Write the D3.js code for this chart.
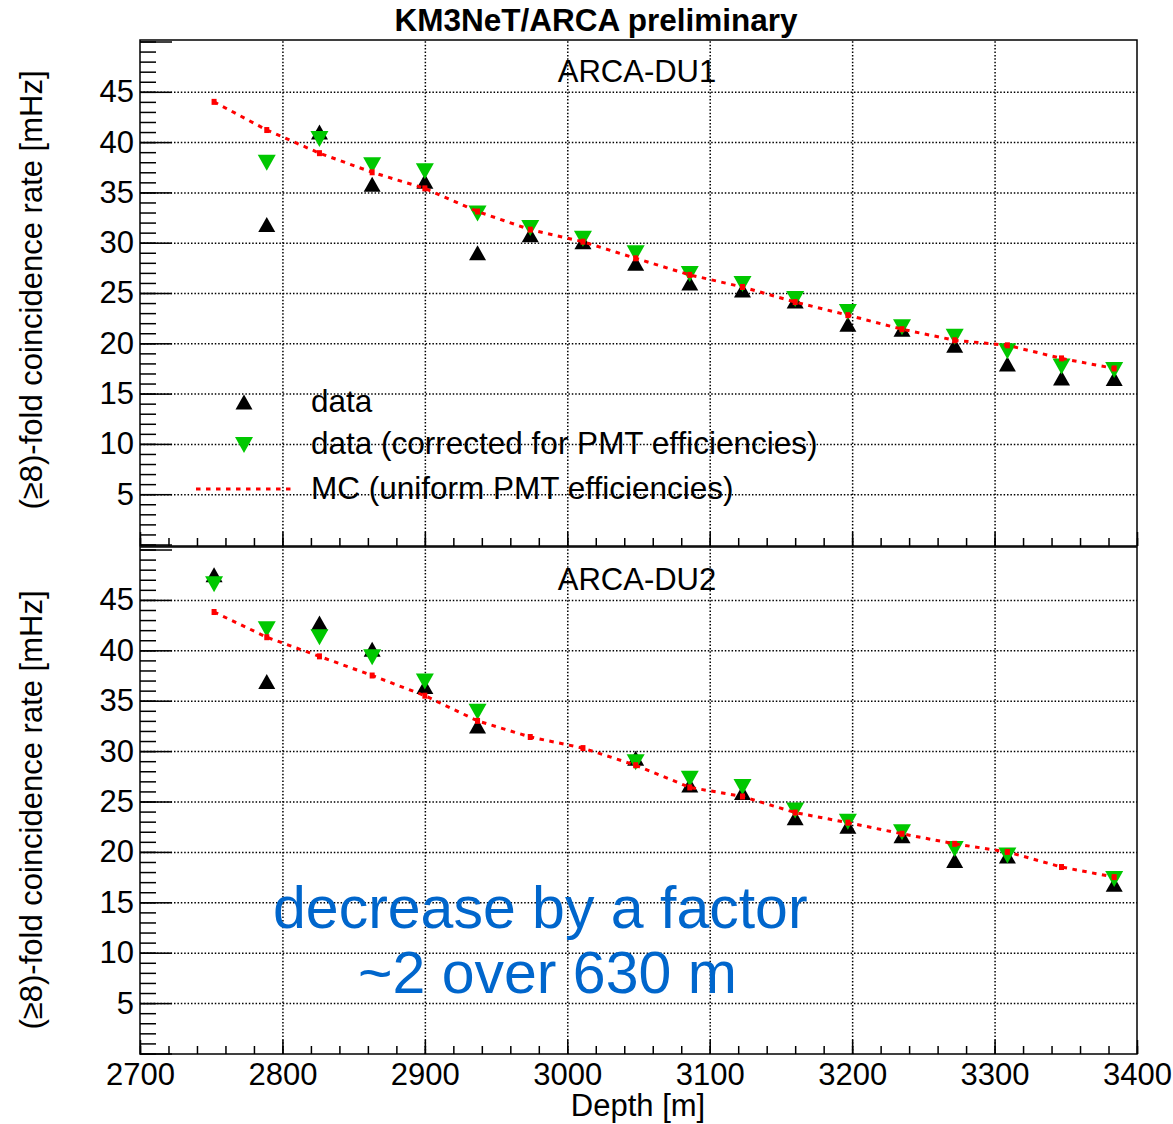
<!DOCTYPE html>
<html>
<head>
<meta charset="utf-8">
<script src="https://cdn.jsdelivr.net/npm/d3@7"></script>
<style>
  body { margin: 0; background: #fff; }
  svg { display: block; font-family: "Liberation Sans", Arial, Helvetica, sans-serif; }
  .grid line { stroke: #000; stroke-width: 1.5; stroke-dasharray: 1.5,1.9; }
  .grid path.domain, .axis path.domain { display: none; }
  .axis line { stroke: #000; stroke-width: 1.5; }
  .axis text { font-size: 31px; fill: #000; font-family: "Liberation Sans", Arial, sans-serif; }
  .frame { fill: none; stroke: #000; stroke-width: 1.5; }
  .label { font-size: 31px; fill: #000; }
</style>
</head>
<body>
<script>
"use strict";

// depth of each DOM floor [m]
var depths = [2752, 2789, 2826, 2863, 2900, 2937, 2974, 3011, 3048,
  3086, 3123, 3160, 3197, 3235, 3272, 3309, 3347, 3384];

// ARCA-DU1 rates [mHz]
var du1_data = [null, 31.8, 41.0, 35.8, 36.1, 29.0, 30.8, 30.1, 27.95,
  26.0, 25.3, 24.2, 21.9, 21.4, 19.8, 17.95, 16.55, 16.5];
var du1_corrected = [null, 37.95, 40.3, 37.7, 37.1, 32.9, 31.45, 30.4, 28.95,
  26.9, 25.9, 24.4, 23.1, 21.6, 20.65, 19.2, 17.7, 17.35];
var du1_mc = [44.0, 41.2, 38.9, 37.0, 35.4, 33.1, 31.3, 30.1, 28.45,
  26.8, 25.6, 24.1, 22.8, 21.4, 20.3, 19.8, 18.5, 17.5];

// ARCA-DU2 rates [mHz]
var du2_data = [47.5, 36.9, 42.7, 40.1, 36.4, 32.5, null, null, 29.3,
  26.65, 25.9, 23.4, 22.55, 21.6, 19.15, 19.6, null, 16.8];
var du2_corrected = [46.56, 42.1, 41.3, 39.3, 36.9, 33.9, null, null, 28.9,
  27.25, 26.45, 24.1, 23.0, 21.95, 20.3, 19.65, null, 17.3];
var du2_mc = [43.8, 41.3, 39.4, 37.5, 35.5, 33.0, 31.4, 30.3, 28.6,
  26.4, 25.5, 23.9, 22.9, 21.8, 20.8, 20.0, 18.5, 17.5];

// ticks
var x_major = d3.range(2700, 3401, 100),
  x_minor = d3.range(2700, 3401, 20),
  x_grid = d3.range(2800, 3301, 100),
  y_major = d3.range(0, 51, 5),
  y_minor = d3.range(0, 51, 1),
  y_labels = d3.range(5, 46, 5);

var legend_labels = ['data', 'data (corrected for PMT efficiencies)', 'MC (uniform PMT efficiencies)'];

var width = 1173,
  height = 1124,
  left = 140,
  right = 1137,
  black = '#000',
  green = '#00c800',
  red = '#ff0000',
  mc_dash = '4.5,5.5';

var svg = d3.select('body').append('svg')
  .attr('width', width)
  .attr('height', height);

svg.append('rect')
  .attr('width', width)
  .attr('height', height)
  .attr('fill', '#fff');

var x = d3.scaleLinear()
  .domain([2700, 3400])
  .range([left, right]);

var up_tri = 'M-8.5,7.5L8.5,7.5L0,-7.5Z',
  down_tri = 'M-9,-8L9,-8L0,8Z';

svg.append('text')
  .attr('x', 596)
  .attr('y', 31)
  .attr('text-anchor', 'middle')
  .style('font-size', '31.5px')
  .style('font-weight', 'bold')
  .text('KM3NeT/ARCA preliminary');

function draw_panel(p) {
  var y = d3.scaleLinear()
    .domain([0, p.ymax])
    .range([p.y0, p.top]);

  var g = svg.append('g');

  // gridlines
  g.append('g')
    .attr('class', 'grid')
    .attr('transform', `translate(0, ${p.bottom})`)
    .call(d3.axisTop(x).tickValues(x_grid).tickSize(p.bottom - p.top).tickFormat(''));

  g.append('g')
    .attr('class', 'grid')
    .attr('transform', `translate(${left}, 0)`)
    .call(d3.axisRight(y).tickValues(y_labels).tickSize(right - left).tickFormat(''));

  // y ticks
  g.append('g')
    .attr('class', 'axis')
    .attr('transform', `translate(${left}, 0)`)
    .call(d3.axisRight(y).tickValues(y_minor).tickSize(16).tickFormat(''));

  g.append('g')
    .attr('class', 'axis')
    .attr('transform', `translate(${left}, 0)`)
    .call(d3.axisRight(y).tickValues(y_major).tickSize(32).tickFormat(''));

  g.append('g')
    .attr('class', 'axis')
    .attr('transform', `translate(${left}, 0)`)
    .call(d3.axisLeft(y).tickValues(y_labels).tickSize(0).tickPadding(6));

  // x ticks
  g.append('g')
    .attr('class', 'axis')
    .attr('transform', `translate(0, ${p.bottom})`)
    .call(d3.axisTop(x).tickValues(x_minor).tickSize(8).tickFormat(''));

  g.append('g')
    .attr('class', 'axis')
    .attr('transform', `translate(0, ${p.bottom})`)
    .call(d3.axisTop(x).tickValues(x_major).tickSize(14).tickFormat(''));

  if (p.xlabels) {
    g.append('g')
      .attr('class', 'axis')
      .attr('transform', `translate(0, ${p.bottom})`)
      .call(d3.axisBottom(x).tickValues(x_major).tickSize(0).tickPadding(9).tickFormat(String));
  }

  // frame
  g.append('rect')
    .attr('class', 'frame')
    .attr('x', left)
    .attr('y', p.top)
    .attr('width', right - left)
    .attr('height', p.bottom - p.top);

  // y title
  g.append('text')
    .attr('class', 'label')
    .attr('text-anchor', 'middle')
    .attr('transform', `translate(42, ${p.label_y}) rotate(-90)`)
    .text('(\u22658)-fold coincidence rate [mHz]');

  // panel title
  g.append('text')
    .attr('class', 'label')
    .attr('x', 637)
    .attr('y', p.title_y)
    .attr('text-anchor', 'middle')
    .text(p.title);

  // data markers
  var pts = depths.map((d, i) => ({depth: d, data: p.data[i], corr: p.corr[i], mc: p.mc[i]}));

  g.append('g').selectAll('path')
    .data(pts.filter(d => d.data != null))
    .enter().append('path')
    .attr('d', up_tri)
    .attr('fill', black)
    .attr('transform', d => `translate(${x(d.depth)}, ${y(d.data)})`);

  g.append('g').selectAll('path')
    .data(pts.filter(d => d.corr != null))
    .enter().append('path')
    .attr('d', down_tri)
    .attr('fill', green)
    .attr('transform', d => `translate(${x(d.depth)}, ${y(d.corr)})`);

  // MC
  var line = d3.line()
    .x(d => x(d.depth))
    .y(d => y(d.mc));

  g.append('path')
    .attr('d', line(pts))
    .attr('fill', 'none')
    .attr('stroke', red)
    .attr('stroke-width', 3)
    .attr('stroke-dasharray', mc_dash);

  g.append('g').selectAll('rect')
    .data(pts)
    .enter().append('rect')
    .attr('x', d => x(d.depth) - 2.5)
    .attr('y', d => y(d.mc) - 3)
    .attr('width', 5)
    .attr('height', 6)
    .attr('fill', red);

  if (p.legend) {
    var lg = g.append('g');
    var rows = [412, 454, 499];

    lg.append('path')
      .attr('d', up_tri)
      .attr('fill', black)
      .attr('transform', 'translate(244, 402)');

    lg.append('path')
      .attr('d', down_tri)
      .attr('fill', green)
      .attr('transform', 'translate(244, 445)');

    lg.append('line')
      .attr('x1', 196)
      .attr('x2', 291)
      .attr('y1', 489)
      .attr('y2', 489)
      .attr('stroke', red)
      .attr('stroke-width', 3)
      .attr('stroke-dasharray', mc_dash);

    lg.selectAll('text')
      .data(legend_labels)
      .enter().append('text')
      .attr('class', 'label')
      .attr('x', 311)
      .attr('y', (d, i) => rows[i])
      .style('font-size', '31.5px')
      .text(d => d);
  }

  return g;
}

draw_panel({
  top: 40, bottom: 546, y0: 544.5, ymax: 50.15,
  title: 'ARCA-DU1', title_y: 82, label_y: 290,
  data: du1_data, corr: du1_corrected, mc: du1_mc,
  legend: true, xlabels: false
});

var bottom_panel = draw_panel({
  top: 547, bottom: 1054, y0: 1053.5, ymax: 50.25,
  title: 'ARCA-DU2', title_y: 590, label_y: 810,
  data: du2_data, corr: du2_corrected, mc: du2_mc,
  legend: false, xlabels: true
});

// x title
svg.append('text')
  .attr('class', 'label')
  .attr('x', 638)
  .attr('y', 1116)
  .attr('text-anchor', 'middle')
  .text('Depth [m]');

// annotation
var note = svg.append('g')
  .style('font-size', '59px')
  .attr('fill', '#0066cc');

note.append('text')
  .attr('x', 273)
  .attr('y', 928)
  .text('decrease by a factor');

note.append('text')
  .attr('x', 358)
  .attr('y', 993)
  .text('~2 over 630 m');
</script>
</body>
</html>
